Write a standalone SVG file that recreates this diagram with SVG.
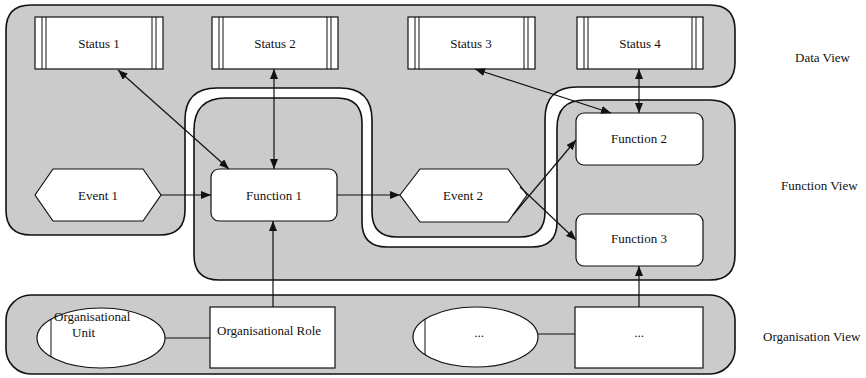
<svg xmlns="http://www.w3.org/2000/svg" width="866" height="378" viewBox="0 0 866 378">
<defs>
<style>
.region{fill:#cbcbcb;stroke:#111;stroke-width:1.6}
.node{fill:#fff;stroke:#111;stroke-width:1.2}
.bar{stroke:#111;stroke-width:1}
text{font-family:'Liberation Serif','Times New Roman','DejaVu Serif',serif;font-size:13px;fill:#111}
.c{text-anchor:middle}
.con{stroke:#111;stroke-width:1.2;fill:none}
</style>
<marker id="ah" viewBox="0 0 10 8" refX="10" refY="4" markerWidth="10" markerHeight="8" markerUnits="userSpaceOnUse" orient="auto-start-reverse">
<path d="M0,0 L10,4 L0,8 Z" fill="#111"/>
</marker>
</defs>
<rect width="866" height="378" fill="#fff"/>

<g id="data-view">
<path class="region" d="M31,5 H710 Q735,5 735,30 V62 Q735,87 710,87 H577 Q545,87 545,119 V212 Q545,237 520,237 H397 Q372,237 372,212 V120 Q372,88 340,88 H217 Q185,88 185,120 V210 Q185,235 160,235 H31 Q6,235 6,210 V30 Q6,5 31,5 Z"/>
<text font-family="Liberation Serif, serif" x="795" y="62">Data View</text>
</g>
<g id="function-view">
<path class="region" d="M226,98 H337 Q362,98 362,123 V222 Q362,247 387,247 H532 Q557,247 557,222 V128 Q557,100 585,100 H710 Q735,100 735,125 V255 Q735,280 710,280 H219 Q194,280 194,255 V130 Q194,98 226,98 Z"/>
<text x="781" y="190">Function View</text>
</g>
<g id="organisation-view">
<rect class="region" x="6" y="295" width="729" height="79" rx="25" ry="25"/>
<text x="763" y="341">Organisation View</text>
</g>

<g id="status1">
<rect class="node" x="35" y="17" width="128" height="52"/>
<path class="bar" d="M42,17V69M46,17V69M152,17V69M156,17V69"/>
<text class="c" x="99" y="48">Status 1</text>
</g>
<g id="status2">
<rect class="node" x="212" y="17" width="126" height="52"/>
<path class="bar" d="M219,17V69M223,17V69M327,17V69M331,17V69"/>
<text class="c" x="275" y="48">Status 2</text>
</g>
<g id="status3">
<rect class="node" x="408" y="17" width="127" height="52"/>
<path class="bar" d="M415,17V69M419,17V69M524,17V69M528,17V69"/>
<text class="c" x="471" y="48">Status 3</text>
</g>
<g id="status4">
<rect class="node" x="577" y="17" width="126" height="52"/>
<path class="bar" d="M584,17V69M588,17V69M692,17V69M696,17V69"/>
<text class="c" x="640" y="48">Status 4</text>
</g>

<g id="event1">
<polygon class="node" points="35,195 53,169 143,169 161,195 143,221 53,221"/>
<text class="c" x="98" y="200">Event 1</text>
</g>
<g id="function1">
<rect class="node" x="211" y="169" width="126" height="52" rx="8" ry="8"/>
<text class="c" x="274" y="200">Function 1</text>
</g>
<g id="event2">
<polygon class="node" points="400,195 420,169 508,169 527,195 508,222 420,222"/>
<text class="c" x="463" y="200">Event 2</text>
</g>
<g id="function2">
<rect class="node" x="576" y="113" width="127" height="52" rx="8" ry="8"/>
<text class="c" x="639" y="143">Function 2</text>
</g>
<g id="function3">
<rect class="node" x="576" y="214" width="127" height="52" rx="8" ry="8"/>
<text class="c" x="639" y="243">Function 3</text>
</g>

<g id="org-unit">
<ellipse class="node" cx="101" cy="338" rx="64" ry="30"/>
<path class="bar" d="M51,319V357"/>
<text x="54" y="321">Organisational</text>
<text x="72" y="337">Unit</text>
</g>
<g id="org-role">
<rect class="node" x="210" y="307" width="125" height="61"/>
<text x="217" y="335">Organisational Role</text>
</g>
<g id="org-unit2">
<ellipse class="node" cx="475.5" cy="337" rx="62.5" ry="30"/>
<path class="bar" d="M425,319V355"/>
<text class="c" x="479" y="337">...</text>
</g>
<g id="org-role2">
<rect class="node" x="575" y="307" width="128" height="61"/>
<text class="c" x="639" y="337">...</text>
</g>

<g id="connectors">
<line class="con" x1="118" y1="70" x2="229" y2="169" marker-start="url(#ah)" marker-end="url(#ah)"/>
<line class="con" x1="274" y1="69" x2="274" y2="169" marker-start="url(#ah)" marker-end="url(#ah)"/>
<line class="con" x1="475" y1="69" x2="611" y2="113" marker-start="url(#ah)" marker-end="url(#ah)"/>
<line class="con" x1="639" y1="69" x2="639" y2="113" marker-start="url(#ah)" marker-end="url(#ah)"/>
<line class="con" x1="161" y1="195" x2="211" y2="195" marker-end="url(#ah)"/>
<line class="con" x1="337" y1="195" x2="400" y2="195" marker-end="url(#ah)"/>
<line class="con" x1="513" y1="215" x2="576" y2="140" marker-end="url(#ah)"/>
<line class="con" x1="520" y1="187" x2="576" y2="240" marker-end="url(#ah)"/>
<line class="con" x1="165" y1="338" x2="210" y2="338"/>
<line class="con" x1="538" y1="334" x2="575" y2="334"/>
<line class="con" x1="273" y1="307" x2="273" y2="221" marker-end="url(#ah)"/>
<line class="con" x1="639" y1="307" x2="639" y2="266" marker-end="url(#ah)"/>
</g>
</svg>
